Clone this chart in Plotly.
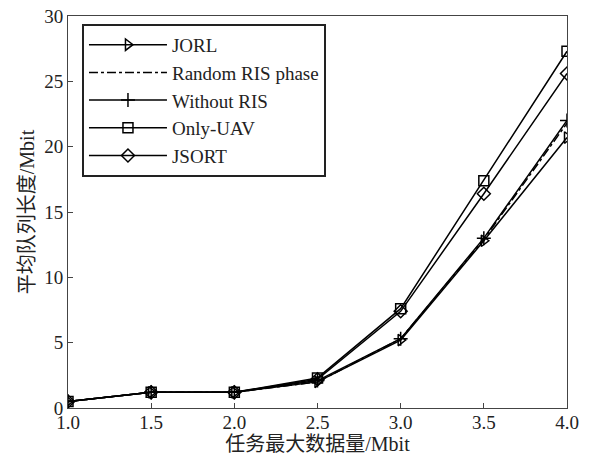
import plotly.graph_objects as go

x_vals = [1.0, 1.5, 2.0, 2.5, 3.0, 3.5, 4.0]
series_names = ["JORL", "Random RIS phase", "Without RIS", "Only-UAV", "JSORT"]
jorl = [0.5, 1.2, 1.2, 2.0, 5.2, 12.8, 20.7]
random_ris = [0.5, 1.2, 1.2, 2.0, 5.3, 12.9, 21.8]
without_ris = [0.5, 1.2, 1.2, 2.1, 5.3, 13.0, 22.0]
only_uav = [0.5, 1.2, 1.2, 2.3, 7.6, 17.4, 27.3]
jsort = [0.5, 1.2, 1.2, 2.2, 7.4, 16.4, 25.6]
x_ticks = [1.0, 1.5, 2.0, 2.5, 3.0, 3.5, 4.0]
x_tick_text = ["1.0", "1.5", "2.0", "2.5", "3.0", "3.5", "4.0"]
y_ticks = [0, 5, 10, 15, 20, 25, 30]

styles = [
    dict(symbol="triangle-right-open", dash="solid", mode="lines+markers"),
    dict(symbol="circle", dash="dashdot", mode="lines"),
    dict(symbol="cross-thin-open", dash="solid", mode="lines+markers"),
    dict(symbol="square-open", dash="solid", mode="lines+markers"),
    dict(symbol="diamond-open", dash="solid", mode="lines+markers"),
]
data = [jorl, random_ris, without_ris, only_uav, jsort]

fig = go.Figure()
for name, ys, st in zip(series_names, data, styles):
    fig.add_trace(go.Scatter(
        x=x_vals, y=ys, name=name, mode=st["mode"],
        line=dict(color="black", width=1.5, dash=st["dash"]),
        marker=dict(symbol=st["symbol"], size=10, color="black",
                    line=dict(color="black", width=1.5)),
    ))

font_family = "Liberation Serif, Times New Roman, Noto Sans CJK SC, serif"
title_family = "Liberation Serif, Noto Sans CJK SC"
fig.update_layout(
    width=590, height=456,
    margin=dict(l=68, r=23, t=16, b=48),
    paper_bgcolor="white", plot_bgcolor="white",
    font=dict(family=font_family, size=19, color="#222"),
    showlegend=True,
    legend=dict(
        x=0.028, y=0.98, xanchor="left", yanchor="top",
        bgcolor="white", bordercolor="#222", borderwidth=2,
        font=dict(size=19, family=font_family), itemwidth=78,
        tracegroupgap=0,
    ),
    xaxis=dict(
        range=[1.0, 4.0], tickvals=x_ticks, ticktext=x_tick_text,
        ticks="inside", ticklen=5, tickcolor="#444",
        showline=True, linecolor="#444", linewidth=1, mirror=True,
        showgrid=False, zeroline=False, ticklabeloverflow="allow",
        automargin=False, ticklabelstandoff=-3,
        title=dict(text="任务最大数据量/Mbit", standoff=0,
                   font=dict(size=20, family=title_family, color="#222")),
    ),
    yaxis=dict(
        range=[0, 30], tickvals=y_ticks,
        ticks="inside", ticklen=5, tickcolor="#444",
        showline=True, linecolor="#444", linewidth=1, mirror=True,
        showgrid=False, zeroline=False, ticklabeloverflow="allow",
        automargin=False,
        title=dict(text="平均队列长度/Mbit", standoff=4,
                   font=dict(size=20, family=title_family, color="#222")),
    ),
)

fig.write_html("out.html", config={"displayModeBar": False},
               post_script="document.body.style.margin='0';")
